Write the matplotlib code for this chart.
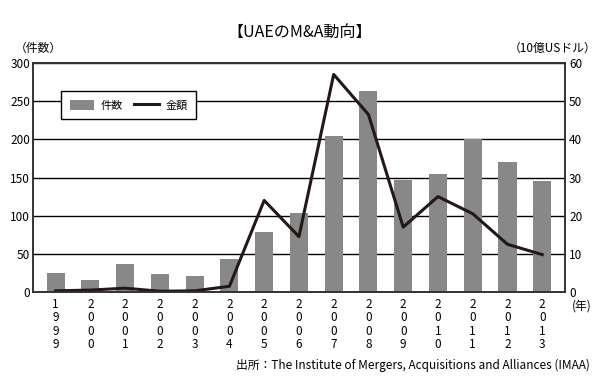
import matplotlib.pyplot as plt
import numpy as np

plt.rcParams['font.family'] = ['Noto Sans CJK JP', 'DejaVu Sans']

years = ['1999', '2000', '2001', '2002', '2003', '2004', '2005', '2006',
         '2007', '2008', '2009', '2010', '2011', '2012', '2013']
counts = [25, 16, 37, 24, 21, 43, 79, 104, 204, 263, 147, 155, 200, 170, 145]
amounts = [0.3, 0.5, 1.0, 0.2, 0.3, 1.5, 24, 14.5, 57, 46.5, 17, 25, 20.5, 12.5, 9.8]

fig = plt.figure(figsize=(5.99, 3.83), dpi=100)
ax = fig.add_axes([0.0551, 0.2376, 0.8879, 0.5979])
ax2 = ax.twinx()

x = np.arange(len(years))
ax.set_axisbelow(True)
ax.grid(axis='y', color='black', linewidth=1.0)
bars = ax.bar(x, counts, width=0.52, color='#888888', zorder=2)
line, = ax2.plot(x, amounts, color='#231815', linewidth=2.2)

ax.set_xlim(-0.65, len(years) - 0.35)
ax.set_ylim(0, 300)
ax.set_yticks(range(0, 301, 50))
ax2.set_ylim(0, 60)
ax2.set_yticks(range(0, 61, 10))

ax.set_xticks(x)
ax.set_xticklabels(['\n'.join(y) for y in years], fontsize=8.5, linespacing=1.05)
ax.tick_params(axis='x', length=0, pad=4)
ax.tick_params(axis='y', length=0, labelsize=8.5, pad=2)
ax2.tick_params(axis='y', length=0, labelsize=8.5, pad=3)
for a in (ax, ax2):
    for s in a.spines.values():
        s.set_linewidth(1.2)
        s.set_color('#333333')

leg = ax2.legend([bars, line], ['件数', '金額'], loc='upper left',
                 bbox_to_anchor=(0.043, 0.9), ncol=2, fancybox=False,
                 edgecolor='black', framealpha=1, fontsize=8,
                 handlelength=2.2, handleheight=1.0, columnspacing=1.0,
                 handletextpad=0.6, borderpad=0.75)
leg.get_frame().set_linewidth(1.0)

fig.text(0.5, 0.915, '【UAEのM&A動向】', ha='center', va='center', fontsize=11.5)
fig.text(0.025, 0.875, '（件数）', ha='left', va='center', fontsize=8.5)
fig.text(0.995, 0.875, '（10億USドル）', ha='right', va='center', fontsize=8.5)
fig.text(0.955, 0.2, '(年)', ha='left', va='center', fontsize=8.5)
fig.text(0.985, 0.045, '出所：The Institute of Mergers, Acquisitions and Alliances (IMAA)',
         ha='right', va='center', fontsize=8.5)

fig.savefig('out.png', dpi=100)
